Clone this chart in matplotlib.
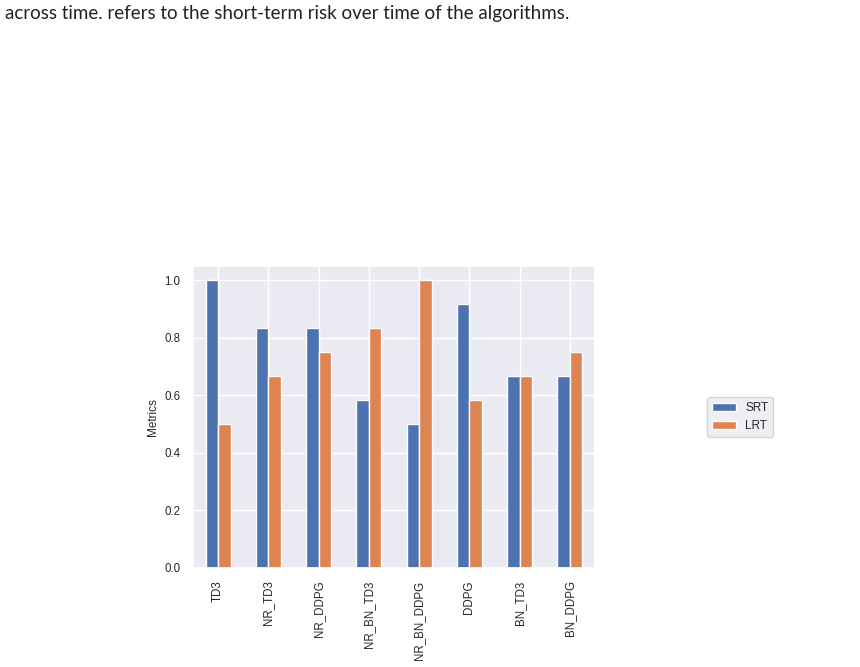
import numpy as np
import pandas as pd
import seaborn as sns
import matplotlib
matplotlib.use("Agg")
import matplotlib.pyplot as plt

algorithms = ["TD3", "NR_TD3", "NR_DDPG", "NR_BN_TD3", "NR_BN_DDPG", "DDPG", "BN_TD3", "BN_DDPG"]
srt = [1.0, 0.833, 0.833, 0.583, 0.5, 0.917, 0.667, 0.667]
lrt = [0.5, 0.667, 0.75, 0.833, 1.0, 0.583, 0.667, 0.75]

sns.set_theme(style="darkgrid")
plt.rcParams['font.family'] = ['Arial', 'Liberation Sans', 'DejaVu Sans']

df = pd.DataFrame({"SRT": srt, "LRT": lrt}, index=algorithms)

fig = plt.figure(figsize=(8.6, 6.67), dpi=100)
ax = fig.add_axes([193 / 860, 1 - 568 / 667, (595 - 193) / 860, (568 - 266) / 667])
df.plot(kind="bar", ax=ax, color=["#4c72b0", "#dd8452"])
ax.set_ylim(0, 1.05)
ax.set_ylabel("Metrics", fontsize=8.5)
ax.tick_params(axis="both", labelsize=8.3, pad=3)
ax.legend(loc="center left", bbox_to_anchor=(1.265, 0.5), fontsize=8.5)

fig.text(5 / 860, 1 - 14 / 667, "across time. refers to the short-term risk over time of the algorithms.",
         fontsize=13.5, family="Lato", va="center", ha="left", color="#222222")

fig.savefig("out.png", dpi=100, facecolor="white")
